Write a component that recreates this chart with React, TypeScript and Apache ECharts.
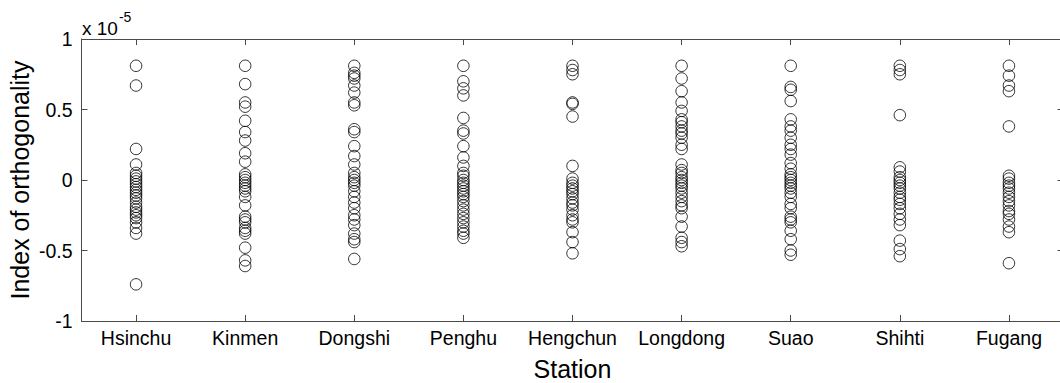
import React, { useEffect, useRef } from "react";
import * as echarts from "echarts";

// Station names along the x axis
const stations = ["Hsinchu", "Kinmen", "Dongshi", "Penghu", "Hengchun", "Longdong", "Suao", "Shihti", "Fugang"];

// Index of orthogonality per station, in units of 1e-5
const hsinchu = [0.81, 0.67, 0.22, 0.11, 0.05, 0.03, 0.01, -0.01, -0.03, -0.05, -0.07, -0.09, -0.11, -0.13, -0.16, -0.19, -0.21, -0.23, -0.25, -0.27, -0.3, -0.34, -0.38, -0.74];
const kinmen = [0.81, 0.68, 0.55, 0.52, 0.42, 0.34, 0.28, 0.19, 0.13, 0.04, 0.02, 0.0, -0.02, -0.04, -0.06, -0.08, -0.12, -0.18, -0.26, -0.28, -0.3, -0.34, -0.36, -0.38, -0.48, -0.57, -0.61];
const dongshi = [0.81, 0.76, 0.74, 0.72, 0.67, 0.62, 0.55, 0.53, 0.36, 0.34, 0.24, 0.17, 0.11, 0.05, 0.02, 0.0, -0.02, -0.04, -0.08, -0.12, -0.16, -0.2, -0.25, -0.28, -0.32, -0.38, -0.42, -0.44, -0.56];
const penghu = [0.81, 0.7, 0.65, 0.6, 0.44, 0.35, 0.33, 0.24, 0.16, 0.1, 0.05, 0.03, 0.0, -0.02, -0.04, -0.06, -0.08, -0.1, -0.12, -0.15, -0.18, -0.21, -0.24, -0.27, -0.3, -0.33, -0.36, -0.38, -0.41];
const hengchun = [0.81, 0.78, 0.75, 0.55, 0.54, 0.45, 0.1, 0.01, -0.02, -0.04, -0.06, -0.08, -0.1, -0.13, -0.16, -0.18, -0.21, -0.25, -0.28, -0.3, -0.37, -0.44, -0.52];
const longdong = [0.81, 0.72, 0.63, 0.55, 0.49, 0.43, 0.41, 0.38, 0.35, 0.33, 0.3, 0.25, 0.22, 0.11, 0.07, 0.05, 0.02, 0.0, -0.02, -0.04, -0.06, -0.09, -0.12, -0.15, -0.18, -0.2, -0.26, -0.33, -0.41, -0.44, -0.47];
const suao = [0.81, 0.66, 0.64, 0.56, 0.43, 0.38, 0.35, 0.3, 0.25, 0.22, 0.18, 0.12, 0.08, 0.04, 0.02, 0.0, -0.02, -0.04, -0.06, -0.09, -0.12, -0.17, -0.2, -0.26, -0.28, -0.3, -0.36, -0.42, -0.5, -0.53];
const shihti = [0.81, 0.78, 0.75, 0.46, 0.09, 0.06, 0.02, 0.0, -0.02, -0.04, -0.06, -0.09, -0.12, -0.14, -0.17, -0.2, -0.24, -0.28, -0.32, -0.43, -0.49, -0.54];
const fugang = [0.81, 0.74, 0.67, 0.63, 0.38, 0.03, 0.01, -0.02, -0.04, -0.06, -0.09, -0.12, -0.15, -0.18, -0.22, -0.24, -0.28, -0.33, -0.37, -0.59];

const stationValues = [hsinchu, kinmen, dongshi, penghu, hengchun, longdong, suao, shihti, fugang];

// Y axis tick labels
const yTicks = [-1, -0.5, 0, 0.5, 1];

const FONT = "'Liberation Sans', Arial, sans-serif";
const AXIS_COLOR = "#4a4a4a";

export default function App() {
  const ref = useRef<HTMLDivElement>(null);

  useEffect(() => {
    if (!ref.current) return;
    const chart = echarts.init(ref.current, null, { renderer: "svg" });

    const points: [number, number][] = [];
    stationValues.forEach((vals, i) => vals.forEach((v) => points.push([i, v])));

    const axisLine = { show: true, onZero: false, lineStyle: { color: AXIS_COLOR, width: 1 } };
    const tick = { show: true, inside: true, length: 6, lineStyle: { color: AXIS_COLOR } };

    chart.setOption({
      animation: false,
      backgroundColor: "#ffffff",
      textStyle: { fontFamily: FONT },
      grid: {
        left: 81.5,
        top: 39,
        width: 982,
        height: 282,
        containLabel: false,
        outerBoundsMode: "none",
      },
      xAxis: [
        {
          type: "category",
          data: stations,
          position: "bottom",
          boundaryGap: true,
          axisLine,
          axisTick: { ...tick, alignWithLabel: true },
          axisLabel: { color: "#000", fontSize: 19.5, fontFamily: FONT, margin: 7, interval: 0 },
          splitLine: { show: false },
          name: "Station",
          nameLocation: "middle",
          nameGap: 35,
          nameMoveOverlap: false,
          nameTextStyle: { color: "#000", fontSize: 25, fontFamily: FONT },
        },
        {
          type: "category",
          data: stations,
          position: "top",
          boundaryGap: true,
          axisLine,
          axisTick: { ...tick, alignWithLabel: true },
          axisLabel: { show: false },
          splitLine: { show: false },
        },
      ],
      yAxis: [
        {
          type: "value",
          min: -1,
          max: 1,
          interval: 0.5,
          position: "left",
          axisLine,
          axisTick: tick,
          axisLabel: {
            color: "#000",
            fontSize: 19.5,
            fontFamily: FONT,
            margin: 9,
            formatter: (v: number) => (yTicks.includes(v) ? String(v) : ""),
          },
          splitLine: { show: false },
          name: "Index of orthogonality",
          nameLocation: "middle",
          nameGap: 49,
          nameMoveOverlap: false,
          nameRotate: 90,
          nameTextStyle: { color: "#000", fontSize: 25, fontFamily: FONT },
        },
        {
          type: "value",
          min: -1,
          max: 1,
          interval: 0.5,
          position: "right",
          axisLine,
          axisTick: tick,
          axisLabel: { show: false },
          splitLine: { show: false },
        },
      ],
      graphic: [
        {
          type: "text",
          left: 82,
          top: 10,
          style: {
            text: "{b|x 10}{s|-5}",
            rich: {
              b: { fontSize: 19, fontFamily: FONT, fill: "#000", verticalAlign: "bottom", lineHeight: 28 },
              s: { fontSize: 14, fontFamily: FONT, fill: "#000", verticalAlign: "top", lineHeight: 28, padding: [0, 0, 14, 1] },
            },
          },
        },
      ],
      series: [
        {
          type: "scatter",
          xAxisIndex: 0,
          yAxisIndex: 0,
          data: points,
          symbol: "circle",
          symbolSize: 11.5,
          itemStyle: { color: "rgba(0,0,0,0)", borderColor: "#000", borderWidth: 1 },
        },
      ],
    });

    return () => chart.dispose();
  }, []);

  return (
    <div
      ref={ref}
      style={{ position: "absolute", left: 0, top: 0, width: 1060, height: 383, background: "#fff" }}
    />
  );
}
